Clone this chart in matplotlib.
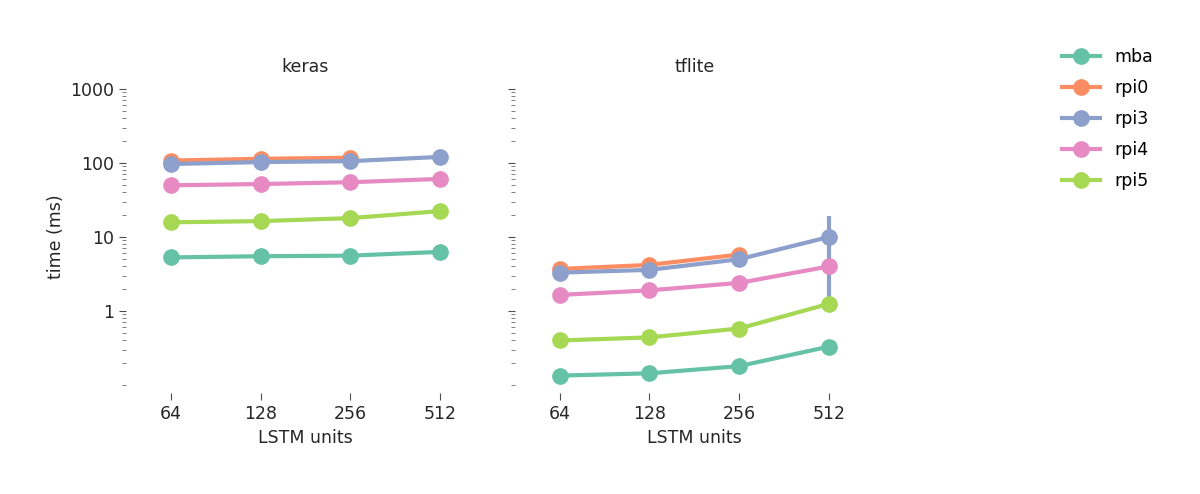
import numpy as np
import matplotlib
matplotlib.use("Agg")
import matplotlib.pyplot as plt
from matplotlib.ticker import LogLocator, NullFormatter

units = ["64", "128", "256", "512"]
devices = ["mba", "rpi0", "rpi3", "rpi4", "rpi5"]
colors = ["#66c2a5", "#fc8d62", "#8da0cb", "#e78ac3", "#a6d854"]

# mean inference time (ms)
keras_mba = [5.3, 5.5, 5.6, 6.3]
keras_rpi0 = [108, 114, 118, np.nan]
keras_rpi3 = [97, 103, 106, 121]
keras_rpi4 = [50, 52, 55, 61]
keras_rpi5 = [15.8, 16.4, 18.0, 22.4]

tflite_mba = [0.134, 0.144, 0.18, 0.33]
tflite_rpi0 = [3.7, 4.2, 5.8, np.nan]
tflite_rpi3 = [3.3, 3.6, 5.0, 10.0]
tflite_rpi4 = [1.65, 1.9, 2.4, 4.0]
tflite_rpi5 = [0.40, 0.44, 0.58, 1.25]

# only visible confidence interval: rpi3 / tflite / 512
ci_rpi3_tflite_lo = 1.4
ci_rpi3_tflite_hi = 19.0

keras = [keras_mba, keras_rpi0, keras_rpi3, keras_rpi4, keras_rpi5]
tflite = [tflite_mba, tflite_rpi0, tflite_rpi3, tflite_rpi4, tflite_rpi5]

plt.rcParams["font.family"] = "DejaVu Sans"
plt.rcParams["font.size"] = 12.5

fig = plt.figure(figsize=(12, 4.94), dpi=100)
ax1 = fig.add_axes([0.105, 0.2206, 0.299, 0.5992])
ax2 = fig.add_axes([0.429, 0.2206, 0.299, 0.5992], sharey=ax1)

x = np.arange(len(units))
handles = []
for ax, data, title in [(ax1, keras, "keras"), (ax2, tflite, "tflite")]:
    for i, (dev, col) in enumerate(zip(devices, colors)):
        h, = ax.plot(x, data[i], color=col, lw=3, marker="o", ms=11,
                     label=dev, zorder=2 + i)
        if ax is ax1:
            handles.append(h)
    ax.set_title(title, fontsize=12.5, color="0.15", pad=12)
    ax.set_xticks(x, labels=units)
    ax.set_xlim(-0.5, 3.5)
    ax.set_xlabel("LSTM units", color="0.15")
    for s in ax.spines.values():
        s.set_visible(False)
    ax.spines["bottom"].set_position(("outward", 6))
    ax.tick_params(which="major", length=5, width=0.8, color="0.3", labelcolor="0.15")
    ax.tick_params(which="minor", length=3, width=0.7, color="0.5")

ax2.vlines(x[3], ci_rpi3_tflite_lo, ci_rpi3_tflite_hi, color=colors[2], lw=3, zorder=4)

ax1.set_yscale("log")
ax1.set_ylim(0.1, 1000)
ax1.set_yticks([1, 10, 100, 1000], labels=["1", "10", "100", "1000"])
ax1.yaxis.set_minor_locator(LogLocator(base=10, subs=np.arange(1, 10), numticks=30))
ax1.yaxis.set_minor_formatter(NullFormatter())
ax1.set_ylabel("time (ms)", color="0.15")
ax2.tick_params(axis="y", labelleft=False)

fig.legend(handles=handles, loc="upper left", bbox_to_anchor=(0.872, 0.935),
           frameon=False, fontsize=12.5, handlelength=2.2, labelspacing=0.75)

fig.savefig("out.png", dpi=100)
